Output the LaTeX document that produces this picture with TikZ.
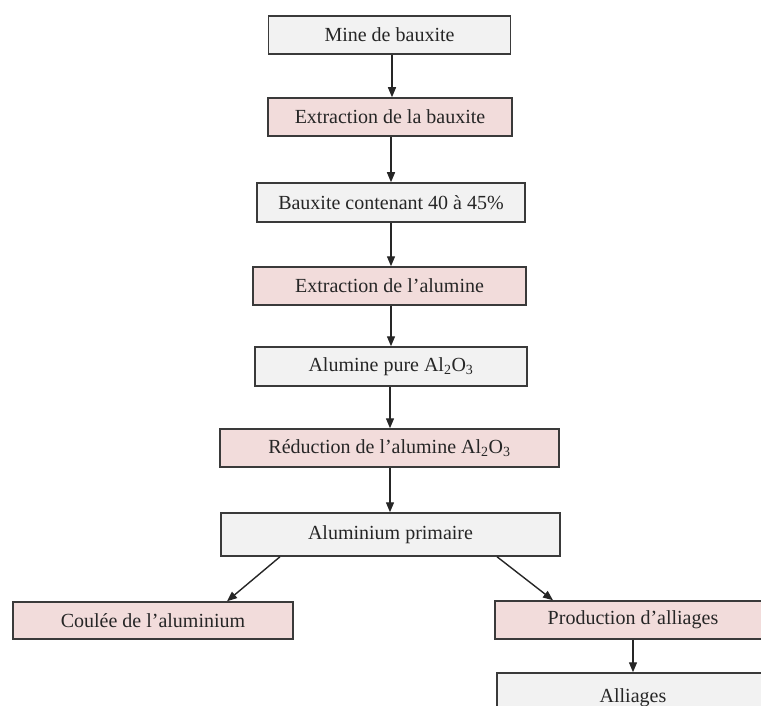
\documentclass[tikz,border=0pt]{standalone}
\usepackage{fontspec}
\setmainfont{Liberation Serif}
\usetikzlibrary{arrows.meta}
\definecolor{greyfill}{HTML}{F2F2F2}
\definecolor{pinkfill}{HTML}{F2DCDB}
\definecolor{edge}{HTML}{3A3A3A}
\begin{document}
\begin{tikzpicture}[x=1pt,y=-1pt,
  box/.style={draw=edge,line width=1.5pt,inner sep=0pt,font=\fontsize{20}{22}\selectfont,text=black!85},
  greybox/.style={box,fill=greyfill},
  pinkbox/.style={box,fill=pinkfill},
  flow/.style={draw=black!85,line width=1.4pt,-{Triangle[length=10pt,width=8pt]}}]
\clip (0,0) rectangle (761,706);
\fill[white] (0,0) rectangle (761,706);
\node[greybox,minimum width=242pt,minimum height=38pt] (n1) at (389.5,35) {Mine de bauxite};
\node[pinkbox,minimum width=244pt,minimum height=38pt] (n2) at (390,117) {Extraction de la bauxite};
\node[greybox,minimum width=268pt,minimum height=39pt] (n3) at (391,202.5) {Bauxite contenant 40 à 45\%};
\node[pinkbox,minimum width=273pt,minimum height=38pt] (n4) at (389.5,286) {Extraction de l’alumine};
\node[greybox,minimum width=272pt,minimum height=39pt] (n5) at (391,366.5) {Alumine pure Al\textsubscript{2}O\textsubscript{3}};
\node[pinkbox,minimum width=339pt,minimum height=38pt] (n6) at (389.5,448) {Réduction de l’alumine Al\textsubscript{2}O\textsubscript{3}};
\node[greybox,minimum width=339pt,minimum height=43pt] (n7) at (390.5,534.5) {Aluminium primaire};
\node[pinkbox,minimum width=280pt,minimum height=37pt] (n8) at (153,620.5) {Coulée de l’aluminium};
\node[pinkbox,minimum width=276pt,minimum height=38pt] (n9) at (633,620) {Production d’alliages};
\node[greybox,minimum width=272pt,minimum height=50pt] (n10) at (633,698) {Alliages};
\draw[flow] (n1.south -| 392,0) -- (n2.north -| 392,0);
\draw[flow] (n2.south -| 391,0) -- (n3.north -| 391,0);
\draw[flow] (n3.south -| 391,0) -- (n4.north -| 391,0);
\draw[flow] (n4.south -| 391,0) -- (n5.north -| 391,0);
\draw[flow] (n5.south -| 390,0) -- (n6.north -| 390,0);
\draw[flow] (n6.south -| 390,0) -- (n7.north -| 390,0);
\draw[flow] (n7.south -| 280,0) -- (n8.north -| 227,0);
\draw[flow] (n7.south -| 497,0) -- (n9.north -| 553,0);
\draw[flow] (n9.south) -- (n10.north);
\end{tikzpicture}
\end{document}
